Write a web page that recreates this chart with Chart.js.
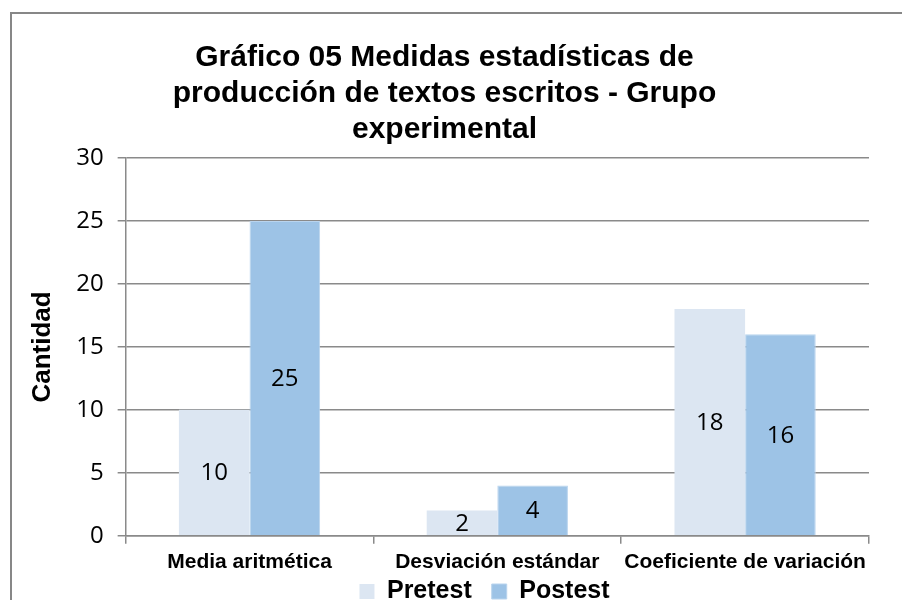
<!DOCTYPE html>
<html>
<head>
<meta charset="utf-8">
<script src="https://cdn.jsdelivr.net/npm/chart.js@4"></script>
<style>
  html, body { margin: 0; padding: 0; background: #fff; }
  #wrap { position: relative; width: 902px; height: 600px; }
  #frame { position: absolute; left: 10px; top: 12px; right: -10px; bottom: -10px;
           border-left: 2px solid #878787; border-top: 2px solid #878787; }
  canvas { position: absolute; left: 0; top: 0; }
</style>
</head>
<body>
<div id="wrap">
  <div id="frame"></div>
  <canvas id="chart" width="902" height="600"></canvas>
</div>
<script>
const categories = ['Media aritmética', 'Desviación estándar', 'Coeficiente de variación'];
const pretest = [10, 2, 18];
const postest = [25, 4, 16];
const titleLines = ['Gráfico 05 Medidas estadísticas de', 'producción de textos escritos - Grupo', 'experimental'];

// values written in the middle of each bar
const barValues = {
  id: 'barValues',
  afterDatasetsDraw(chart) {
    const c = chart.ctx;
    c.save();
    c.font = '24px "Open Sans"';
    c.fillStyle = '#000';
    c.textAlign = 'center';
    c.textBaseline = 'middle';
    chart.data.datasets.forEach((ds, i) => {
      chart.getDatasetMeta(i).data.forEach((bar, j) => {
        const mid = (bar.y + bar.base) / 2;
        c.fillText(ds.data[j], bar.x, mid + 1);
      });
    });
    c.restore();
  }
};

// legend sits a bit right of centre and tight under the labels, like the original
const legendShift = {
  id: 'legendShift',
  afterLayout(chart) {
    const l = chart.legend;
    l.left += 40; l.right += 40;
    l.top -= 22; l.bottom -= 22;
  }
};

new Chart(document.getElementById('chart'), {
  type: 'bar',
  data: {
    labels: categories,
    datasets: [
      { label: 'Pretest', data: pretest, backgroundColor: '#dce6f2', borderWidth: 0 },
      { label: 'Postest', data: postest, backgroundColor: '#9dc3e6',
        borderColor: '#b9d4ee', borderWidth: 1 }
    ]
  },
  options: {
    responsive: false,
    animation: false,
    categoryPercentage: 0.57,
    barPercentage: 1,
    layout: { padding: { left: 20, right: 33, top: 20, bottom: -36 } },
    plugins: {
      title: {
        display: true,
        text: titleLines,
        color: '#000',
        font: { family: '"Liberation Sans", Arial', size: 30, weight: 'bold', lineHeight: 1.2 },
        padding: { top: 20, bottom: 10 }
      },
      legend: {
        position: 'bottom',
        labels: {
          color: '#000',
          font: { family: '"Liberation Sans", Arial', size: 25, weight: 'bold' },
          boxWidth: 15, boxHeight: 15, padding: 20
        }
      },
      tooltip: { enabled: false }
    },
    scales: {
      y: {
        min: 0, max: 30,
        ticks: { stepSize: 5, color: '#000', padding: 14,
                 font: { family: '"Open Sans"', size: 24 } },
        grid: { color: '#8a8a8a', lineWidth: 1.5, tickLength: 8 },
        border: { color: '#8a8a8a', width: 1.5 },
        title: { display: true, text: 'Cantidad', color: '#000',
                 font: { family: '"Liberation Sans", Arial', size: 26, weight: 'bold' },
                 padding: { top: 7, bottom: 4 } }
      },
      x: {
        ticks: { color: '#000', maxRotation: 0, autoSkip: false, padding: 6,
                 font: { family: '"Liberation Sans", Arial', size: 21, weight: 'bold' } },
        grid: { drawOnChartArea: false, tickLength: 8, color: '#8a8a8a', lineWidth: 1.5 },
        border: { color: '#8a8a8a', width: 1.5 }
      }
    }
  },
  plugins: [barValues, legendShift]
});
</script>
</body>
</html>
